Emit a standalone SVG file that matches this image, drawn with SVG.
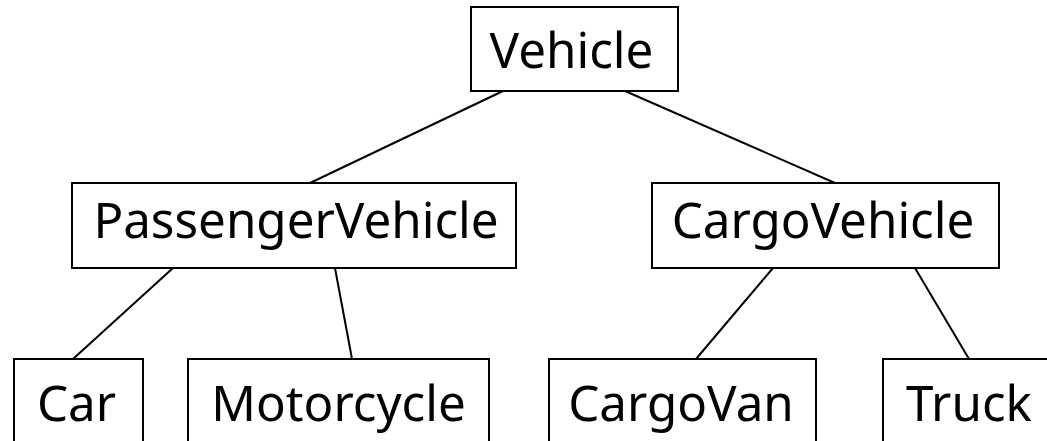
<svg xmlns="http://www.w3.org/2000/svg" width="1047" height="441" viewBox="0 0 1047 441">
<style>
.box{fill:#fff;stroke:#000;stroke-width:2}
.lbl{font-family:"Noto Sans","Open Sans",sans-serif;font-size:49.3px;fill:#000;text-anchor:middle}
.edge{stroke:#000;stroke-width:2;fill:none}
</style>
<rect width="1047" height="441" fill="#fff"/>
<g id="connectors">
<line class="edge" x1="503" y1="91" x2="310" y2="183"/>
<line class="edge" x1="625" y1="91" x2="835" y2="183"/>
<line class="edge" x1="173" y1="268" x2="73" y2="359"/>
<line class="edge" x1="335" y1="268" x2="352" y2="359"/>
<line class="edge" x1="773" y1="268" x2="696" y2="359"/>
<line class="edge" x1="915" y1="268" x2="969" y2="359"/>
</g>
<g id="vehicle"><rect class="box" x="471" y="7" width="207" height="84"/><text class="lbl" x="571.5" y="68">Vehicle</text></g>
<g id="passengervehicle"><rect class="box" x="72" y="183" width="444" height="85"/><text class="lbl" x="296" y="238">PassengerVehicle</text></g>
<g id="cargovehicle"><rect class="box" x="652" y="183" width="347" height="85"/><text class="lbl" x="823" y="238">CargoVehicle</text></g>
<g id="car"><rect class="box" x="14" y="359" width="129" height="85"/><text class="lbl" x="76.5" y="421">Car</text></g>
<g id="motorcycle"><rect class="box" x="188" y="359" width="301" height="85"/><text class="lbl" x="338.5" y="421">Motorcycle</text></g>
<g id="cargovan"><rect class="box" x="549" y="359" width="267" height="85"/><text class="lbl" x="681" y="421">CargoVan</text></g>
<g id="truck"><rect class="box" x="883" y="359" width="200" height="85"/><text class="lbl" x="969" y="421">Truck</text></g>
</svg>
